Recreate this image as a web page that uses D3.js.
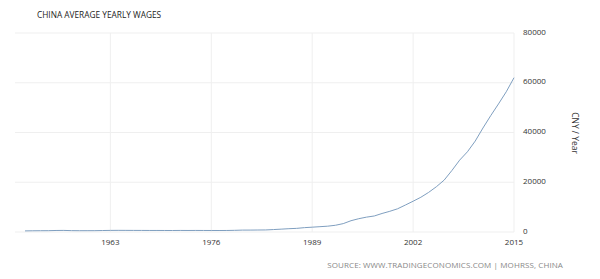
<!DOCTYPE html>
<html><head><meta charset="utf-8">
<script src="https://cdn.jsdelivr.net/npm/d3@7"></script>
<style>body{margin:0;background:#fff;}svg{display:block;}</style>
</head><body>
<svg id="c" width="600" height="279"></svg>
<script>
const years = d3.range(1952, 2016);
const wages = [445,495,517,534,610,637,550,524,528,537,592,641,661,652,636,630,621,618,609,597,622,614,622,613,605,602,615,668,762,772,798,826,974,1148,1329,1459,1747,1935,2140,2340,2711,3371,4538,5348,5980,6444,7446,8319,9333,10834,12373,13969,15920,18200,20856,24721,28898,32244,36539,41799,46769,51483,56360,62029];
const xTicks = [1963, 1976, 1989, 2002, 2015];
const yTicks = [0, 20000, 40000, 60000, 80000];
const title = "CHINA AVERAGE YEARLY WAGES";
const yTitle = "CNY / Year";
const source = "SOURCE: WWW.TRADINGECONOMICS.COM | MOHRSS, CHINA";

const svg = d3.select("#c");
const font = "'Open Sans', sans-serif";
const x = d3.scaleLinear().domain([1952, 2015]).range([25, 514]);
const y = d3.scaleLinear().domain([0, 80000]).range([232, 33]);

// gridlines
svg.append("g").selectAll("line").data(yTicks).join("line")
  .attr("x1", 15).attr("x2", x(2015))
  .attr("y1", d => y(d)).attr("y2", d => y(d))
  .attr("stroke", "#efefef").attr("stroke-width", 1);
svg.append("g").selectAll("line").data(xTicks).join("line")
  .attr("x1", d => x(d)).attr("x2", d => x(d))
  .attr("y1", y(80000)).attr("y2", y(0))
  .attr("stroke", "#efefef").attr("stroke-width", 1);

// line
const line = d3.line().x((d, i) => x(years[i])).y(d => y(d));
svg.append("path").datum(wages).attr("d", line)
  .attr("fill", "none").attr("stroke", "#7f9fc0").attr("stroke-width", 1);

// y tick labels
svg.append("g").selectAll("text").data(yTicks).join("text")
  .attr("x", 523).attr("y", d => y(d)).attr("dy", "0.2em")
  .attr("font-family", font).attr("font-size", 8).attr("fill", "#333")
  .text(d => d);

// x tick labels
svg.append("g").selectAll("text").data(xTicks).join("text")
  .attr("x", d => x(d)).attr("y", 245).attr("text-anchor", "middle")
  .attr("font-family", font).attr("font-size", 8).attr("fill", "#333")
  .text(d => d);

// title
svg.append("text").attr("x", 37).attr("y", 18)
  .attr("font-family", font).attr("font-size", 8.3).attr("fill", "#222")
  .text(title);

// y title
svg.append("text").attr("transform", "translate(572,133) rotate(90)")
  .attr("text-anchor", "middle")
  .attr("font-family", font).attr("font-size", 8.5).attr("fill", "#333")
  .text(yTitle);

// source
svg.append("text").attr("x", 563).attr("y", 268).attr("text-anchor", "end")
  .attr("font-family", font).attr("font-size", 8).attr("fill", "#888")
  .attr("letter-spacing", 0.1)
  .text(source);
</script>
</body></html>
